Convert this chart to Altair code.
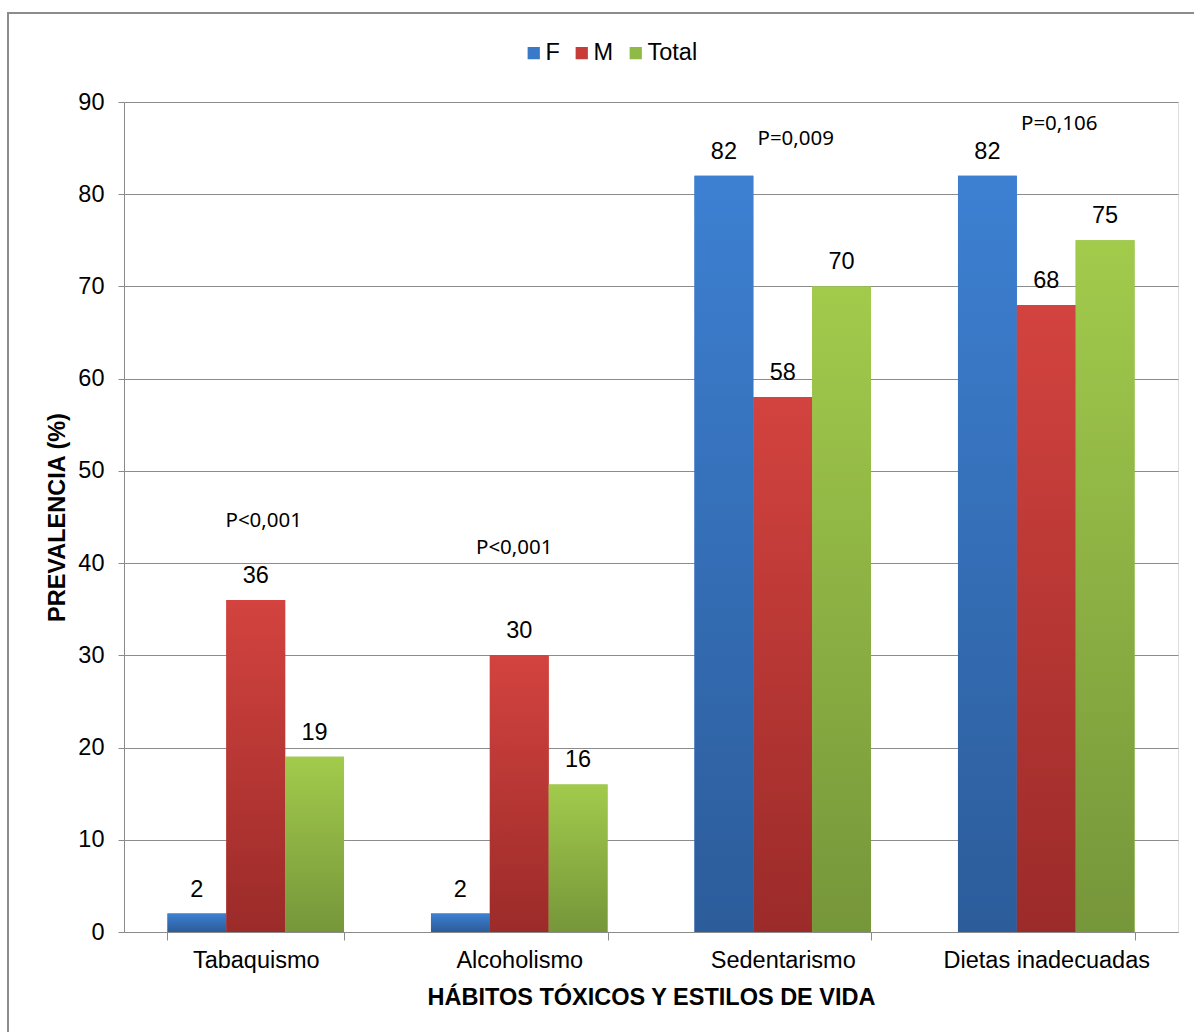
import altair as alt
import pandas as pd

categories = ["Tabaquismo", "Alcoholismo", "Sedentarismo", "Dietas inadecuadas"]
series = ["F", "M", "Total"]
values_F = [2, 2, 82, 82]
values_M = [36, 30, 58, 68]
values_T = [19, 16, 70, 75]
p_texts = ["P<0,001", "P<0,001", "P=0,009", "P=0,106"]
p_heights = [44.6, 41.6, 86.0, 87.6]
p_shift = [8, -5, 13, 13]

solid = {"F": "#3a78c8", "M": "#c73b38", "Total": "#8fba45"}
grad = {
    "F": ("#3d80d2", "#2c5c9a"),
    "M": ("#d3433f", "#9b2b29"),
    "Total": ("#a2cb4c", "#76963a"),
}

rows = []
for s, vals in zip(series, [values_F, values_M, values_T]):
    for c, v in zip(categories, vals):
        rows.append({"Habito": c, "Sexo": s, "Valor": v})
df = pd.DataFrame(rows)

W, H = 1054, 830
FONT = "Liberation Sans"
FS = 23.5

x_enc = alt.X(
    "Habito:N",
    sort=categories,
    scale=alt.Scale(domain=categories, paddingInner=0.33, paddingOuter=0.165),
    axis=alt.Axis(
        title="HÁBITOS TÓXICOS Y ESTILOS DE VIDA",
        labelAngle=0,
        labelFontSize=FS,
        labelFont=FONT,
        labelColor="#000000",
        labelPadding=8,
        labelLimit=0,
        tickBand="extent",
        tickSize=8,
        tickColor="#8a8a8a",
        domainColor="#8a8a8a",
        titleFontSize=FS,
        titleFont=FONT,
        titleFontWeight="bold",
        titleColor="#000000",
        titlePadding=14,
        grid=False,
    ),
)
y_scale = alt.Scale(domain=[0, 90], nice=False)
y_enc = alt.Y(
    "Valor:Q",
    scale=y_scale,
    axis=alt.Axis(
        title="PREVALENCIA (%)",
        values=list(range(0, 91, 10)),
        labelFontSize=FS,
        labelFont=FONT,
        labelColor="#000000",
        labelPadding=14,
        tickSize=6,
        tickColor="#8a8a8a",
        domainColor="#8a8a8a",
        gridColor="#8c8c8c",
        gridWidth=1,
        titleFontSize=FS,
        titleFont=FONT,
        titleFontWeight="bold",
        titleColor="#000000",
        titlePadding=8,
    ),
)
xoff = alt.XOffset("Sexo:N", scale=alt.Scale(domain=series, paddingInner=0, paddingOuter=0))

base = alt.Chart(df)

# solid layer for the legend
legend_layer = base.mark_bar().encode(
    x=x_enc,
    y=y_enc,
    xOffset=xoff,
    color=alt.Color(
        "Sexo:N",
        scale=alt.Scale(domain=series, range=[solid[s] for s in series]),
        legend=alt.Legend(
            title=None,
            orient="none",
            direction="horizontal",
            legendX=398,
            legendY=-61,
            symbolType="square",
            symbolSize=150,
            symbolStrokeWidth=0,
            labelFontSize=FS,
            labelFont=FONT,
            labelColor="#000000",
            labelOffset=0,
            columnPadding=10,
        ),
    ),
)

grad_layers = []
for s in series:
    top, bot = grad[s]
    grad_layers.append(
        base.transform_filter(alt.datum.Sexo == s)
        .mark_bar(
            color=alt.Gradient(
                gradient="linear",
                stops=[alt.GradientStop(color=top, offset=0), alt.GradientStop(color=bot, offset=1)],
                x1=0, x2=0, y1=0, y2=1,
            )
        )
        .encode(x=alt.X("Habito:N", sort=categories), y=alt.Y("Valor:Q"), xOffset=xoff)
    )

labels = base.mark_text(fontSize=FS, font=FONT, color="#000000", dy=-17, baseline="alphabetic").encode(
    x=alt.X("Habito:N", sort=categories),
    y=alt.Y("Valor:Q"),
    xOffset=xoff,
    text="Valor:Q",
)

pdf = pd.DataFrame({"Habito": categories, "Valor": p_heights, "txt": p_texts})
p_layers = []
for i, c in enumerate(categories):
    p_layers.append(
        alt.Chart(pdf.iloc[[i]])
        .mark_text(fontSize=20.5, font="Noto Sans", color="#000000", dx=p_shift[i], baseline="middle")
        .encode(x=alt.X("Habito:N", sort=categories), y=alt.Y("Valor:Q"), text="txt:N")
    )

border = alt.Chart(pd.DataFrame({"a": [0]})).mark_rect(
    fill=None, stroke="#8c8c8c", strokeWidth=2
).encode(
    x=alt.value(8 - 124), x2=alt.value(1260 - 124),
    y=alt.value(13 - 102), y2=alt.value(1100 - 102),
)

chart = alt.layer(border, legend_layer, *grad_layers, labels, *p_layers).properties(
    width=W,
    height=H,
    autosize=alt.AutoSizeParams(type="none"),
    padding={"left": 124, "top": 102, "right": 16, "bottom": 100},
).configure_view(stroke=None).configure(background="#ffffff")

chart.save("out.html", embed_options={"renderer": "svg", "actions": False})
